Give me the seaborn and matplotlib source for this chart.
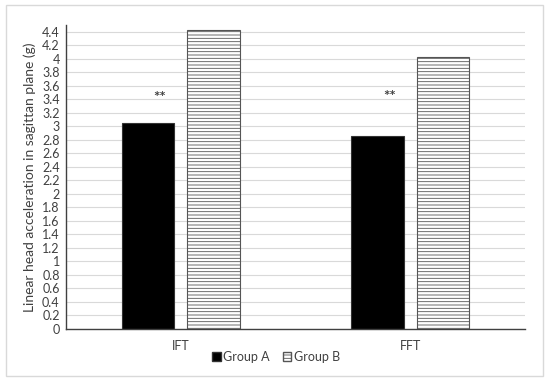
import pandas as pd
import matplotlib.pyplot as plt
import seaborn as sns
from matplotlib.patches import Rectangle
from matplotlib.ticker import MultipleLocator, FixedLocator

tests = ['IFT', 'FFT']
group_a = [3.05, 2.86]
group_b = [4.43, 4.03]
groups = ['Group A', 'Group B']
stars = ['**', '**']
star_y = [3.42, 3.43]

df = pd.DataFrame({
    'test': tests * 2,
    'group': [groups[0]] * 2 + [groups[1]] * 2,
    'value': group_a + group_b,
})

sns.set_style('white')
plt.rcParams['font.family'] = ['Lato', 'DejaVu Sans']
plt.rcParams['hatch.linewidth'] = 0.6
plt.rcParams['hatch.color'] = '#8a8a8a'

fig = plt.figure(figsize=(5.5, 3.83), dpi=100)
ax = fig.add_axes([66 / 550, 1 - 328.7 / 383, 459 / 550, (328.7 - 25) / 383])

sns.barplot(data=df, x='test', y='value', hue='group', order=tests, hue_order=groups,
            palette=['black', 'white'], width=0.57, gap=0.2, ax=ax, legend=False)

for bar in ax.patches:
    bar.set_edgecolor('#333333')
    bar.set_linewidth(0.8)
for bar in ax.containers[1]:
    bar.set_hatch('-----')
    bar.set_edgecolor('#555555')

for i, s in enumerate(stars):
    ax.text(i - 0.09, star_y[i], s, ha='center', va='center', fontsize=11,
            fontweight='bold', color='#404040')

ax.set_xlim(-0.5, 1.5)
ax.set_ylim(0, 4.5)
ax.yaxis.set_major_locator(FixedLocator([i * 0.2 for i in range(23)]))
ax.set_yticklabels([f'{i * 0.2:.1f}'.rstrip('0').rstrip('.') for i in range(23)])
ax.yaxis.set_minor_locator(MultipleLocator(0.1))
ax.grid(axis='y', which='major', color='#d9d9d9', linewidth=0.8)
ax.set_axisbelow(True)

for side in ['top', 'right']:
    ax.spines[side].set_visible(False)
for side in ['left', 'bottom']:
    ax.spines[side].set_color('#404040')
    ax.spines[side].set_linewidth(1.0)

ax.tick_params(axis='y', which='major', direction='inout', length=5, width=0.8,
               color='#404040', labelsize=9, labelcolor='#404040', pad=2)
ax.tick_params(axis='y', which='minor', direction='inout', length=3, width=0.8, color='#404040')
ax.xaxis.set_minor_locator(FixedLocator([-0.5, 0.5, 1.5]))
ax.tick_params(axis='x', which='minor', direction='inout', length=5, width=0.8, color='#404040')
ax.tick_params(axis='x', which='major', length=0, labelsize=9, labelcolor='#404040', pad=8)

ax.set_xlabel('')
ax.set_ylabel('Linear head acceleration in sagittan plane (g)', fontsize=10, color='#404040', labelpad=4)

handles = [Rectangle((0, 0), 1, 1, facecolor='black', edgecolor='#333333'),
           Rectangle((0, 0), 1, 1, facecolor='white', edgecolor='#555555', hatch='-----')]
fig.legend(handles, groups, loc='center', bbox_to_anchor=(276 / 550, 1 - 357 / 383), ncol=2,
           frameon=False, fontsize=9, handlelength=0.7, handleheight=0.7, handletextpad=0.2,
           columnspacing=1.0, labelcolor='#404040')

fig.patches.append(Rectangle((6 / 550, 1 - 376 / 383), 537 / 550, 371 / 383,
                             transform=fig.transFigure, fill=False, edgecolor='#d9d9d9', linewidth=1))

plt.savefig('out.png', dpi=100)
